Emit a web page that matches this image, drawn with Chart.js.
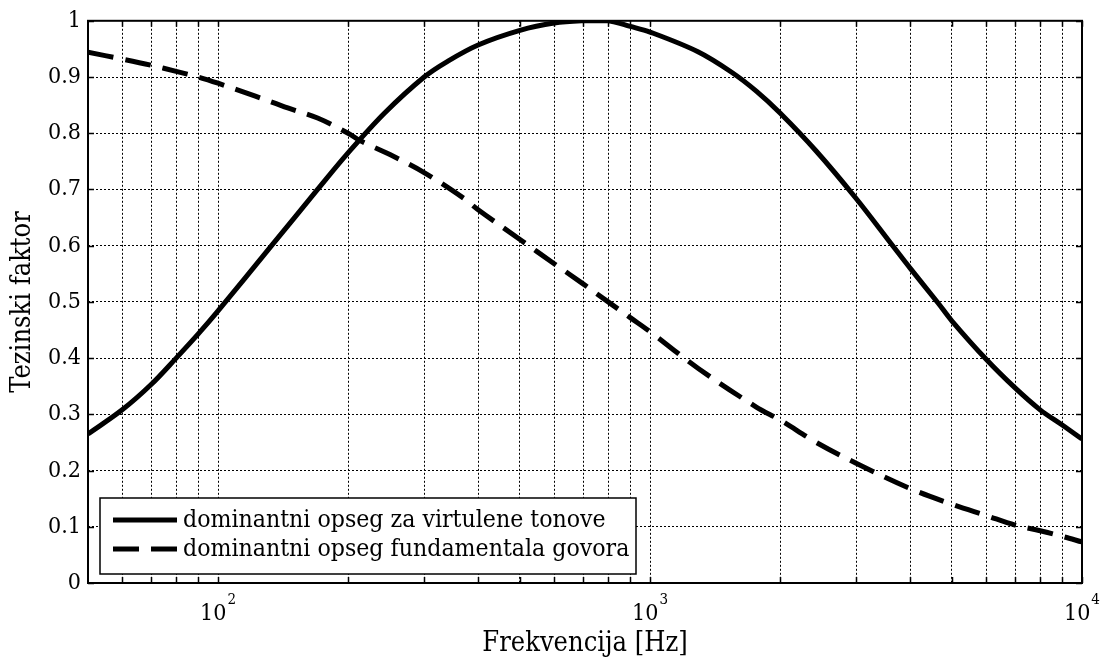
<!DOCTYPE html>
<html>
<head>
<meta charset="utf-8">
<script src="https://cdn.jsdelivr.net/npm/chart.js@4.4.0/dist/chart.umd.min.js"></script>
<style>
html,body{margin:0;padding:0;background:#fff;}
#wrap{width:1104px;height:662px;position:relative;}
</style>
</head>
<body>
<div id="wrap"><canvas id="c" width="1104" height="662"></canvas></div>
<script>
const FONT = "'DejaVu Serif Condensed', 'DejaVu Serif', 'Liberation Serif', serif";

const seriesNames = ['dominantni opseg za virtulene tonove', 'dominantni opseg fundamentala govora'];

const solidFreq  = [50, 60, 70, 80, 90, 100, 133, 170, 200, 243, 300, 340, 400, 500, 600, 700, 800, 900, 1000, 1291, 1542, 1762, 2000, 2427, 3000, 3620, 4000, 4643, 5000, 6000, 7000, 8000, 9000, 10000];
const solidValue = [0.265, 0.308, 0.353, 0.400, 0.443, 0.484, 0.600, 0.700, 0.765, 0.836, 0.900, 0.928, 0.957, 0.983, 0.996, 1.000, 1.000, 0.990, 0.980, 0.945, 0.909, 0.875, 0.836, 0.768, 0.684, 0.603, 0.560, 0.498, 0.466, 0.398, 0.347, 0.308, 0.281, 0.256];

const dashFreq  = [50, 60, 70, 80, 90, 100, 122, 145, 170, 200, 213, 250, 300, 371, 400, 500, 600, 700, 800, 900, 1000, 1291, 1762, 2000, 2427, 3000, 4000, 5000, 6000, 7000, 8000, 9000, 10000];
const dashValue = [0.944, 0.932, 0.921, 0.910, 0.900, 0.889, 0.866, 0.845, 0.827, 0.800, 0.787, 0.762, 0.730, 0.684, 0.664, 0.611, 0.568, 0.532, 0.500, 0.472, 0.447, 0.382, 0.313, 0.290, 0.250, 0.213, 0.168, 0.140, 0.120, 0.103, 0.093, 0.083, 0.073];

const xGridTicks = [60, 70, 80, 90, 100, 200, 300, 400, 500, 600, 700, 800, 900, 1000, 2000, 3000, 4000, 5000, 6000, 7000, 8000, 9000, 10000];
const xLabelTicks = [100, 1000, 10000];
const xLabelBase = ['10', '10', '10'];
const xLabelExp = ['2', '3', '4'];
const yTicks = [0, 0.1, 0.2, 0.3, 0.4, 0.5, 0.6, 0.7, 0.8, 0.9, 1];
const yTickLabels = ['0', '0.1', '0.2', '0.3', '0.4', '0.5', '0.6', '0.7', '0.8', '0.9', '1'];

const decorPlugin = {
  id: 'decor',
  afterDraw(chart) {
    const ctx = chart.ctx;
    const a = chart.chartArea;
    const xs = chart.scales.x, ys = chart.scales.y;
    ctx.save();
    // inward tick marks
    ctx.strokeStyle = '#000';
    ctx.lineWidth = 1.5;
    ctx.beginPath();
    xGridTicks.forEach(v => {
      const px = Math.round(xs.getPixelForValue(v)) + 0.5;
      ctx.moveTo(px, a.bottom); ctx.lineTo(px, a.bottom - 6);
      ctx.moveTo(px, a.top); ctx.lineTo(px, a.top + 6);
    });
    yTicks.forEach(v => {
      const py = Math.round(ys.getPixelForValue(v)) + 0.5;
      ctx.moveTo(a.left, py); ctx.lineTo(a.left + 6, py);
      ctx.moveTo(a.right, py); ctx.lineTo(a.right - 6, py);
    });
    ctx.stroke();
    // frame
    ctx.lineWidth = 2;
    ctx.strokeRect(a.left, a.top, a.right - a.left, a.bottom - a.top);

    // x tick labels with superscripts
    ctx.fillStyle = '#000';
    ctx.textBaseline = 'alphabetic';
    ctx.textAlign = 'left';
    xLabelTicks.forEach((v, i) => {
      const px = xs.getPixelForValue(v);
      ctx.font = '23px ' + FONT;
      const wb = ctx.measureText(xLabelBase[i]).width;
      ctx.font = '15px ' + FONT;
      const we = ctx.measureText(xLabelExp[i]).width;
      const x0 = px - (wb + we + 1) / 2;
      ctx.font = '23px ' + FONT;
      ctx.fillText(xLabelBase[i], x0, 620);
      ctx.font = '15px ' + FONT;
      ctx.fillText(xLabelExp[i], x0 + wb + 1, 604);
    });

    // legend
    const lx = 100, ly = 498, lw = 536, lh = 76;
    ctx.fillStyle = '#fff';
    ctx.fillRect(lx, ly, lw, lh);
    ctx.strokeStyle = '#000';
    ctx.lineWidth = 1.5;
    ctx.strokeRect(lx, ly, lw, lh);
    const rows = [520, 549];
    chart.data.datasets.forEach((ds, i) => {
      ctx.save();
      ctx.strokeStyle = ds.borderColor;
      ctx.lineWidth = ds.borderWidth;
      ctx.setLineDash(ds.borderDash || []);
      ctx.beginPath();
      ctx.moveTo(113, rows[i]);
      ctx.lineTo(177, rows[i]);
      ctx.stroke();
      ctx.restore();
      ctx.fillStyle = '#000';
      ctx.font = '24.6px ' + FONT;
      ctx.textBaseline = 'middle';
      ctx.textAlign = 'left';
      ctx.fillText(ds.label, 183, rows[i] + 1);
    });
    ctx.restore();
  }
};

const chart = new Chart(document.getElementById('c'), {
  type: 'line',
  data: {
    datasets: [
      {
        label: seriesNames[0],
        data: solidFreq.map((f, i) => ({x: f, y: solidValue[i]})),
        borderColor: '#000', borderWidth: 5, pointRadius: 0,
        tension: 0.35, fill: false
      },
      {
        label: seriesNames[1],
        data: dashFreq.map((f, i) => ({x: f, y: dashValue[i]})),
        borderColor: '#000', borderWidth: 5, pointRadius: 0, borderDash: [26, 12],
        borderCapStyle: 'butt',
        tension: 0.35, fill: false
      }
    ]
  },
  options: {
    responsive: false,
    animation: false,
    layout: {padding: {left: 0, right: 22, top: 19, bottom: 0}},
    plugins: {legend: {display: false}, tooltip: {enabled: false}},
    scales: {
      x: {
        type: 'logarithmic', min: 50, max: 10000,
        afterBuildTicks: s => { s.ticks = xGridTicks.map(v => ({value: v})); },
        afterFit: s => { s.height = 79; },
        grid: {color: '#000', lineWidth: 1, drawTicks: false},
        border: {display: false, dash: [2, 2]},
        ticks: {callback: () => '', autoSkip: false, maxRotation: 0, font: {size: 10}},
        title: {display: true, text: 'Frekvencija [Hz]', color: '#000',
                font: {family: FONT, size: 27}, padding: {top: 0, bottom: 2}}
      },
      y: {
        min: 0, max: 1,
        afterBuildTicks: s => { s.ticks = yTicks.map(v => ({value: v})); },
        afterFit: s => { s.width = 88; },
        grid: {color: '#000', lineWidth: 1, drawTicks: false},
        border: {display: false, dash: [2, 2]},
        ticks: {callback: v => yTickLabels[yTicks.indexOf(v)], color: '#000',
                font: {family: FONT, size: 23}, padding: 7},
        title: {display: true, text: 'Tezinski faktor', color: '#000',
                font: {family: FONT, size: 27}, padding: {top: 7, bottom: 0}}
      }
    }
  },
  plugins: [decorPlugin]
});
</script>
</body>
</html>
